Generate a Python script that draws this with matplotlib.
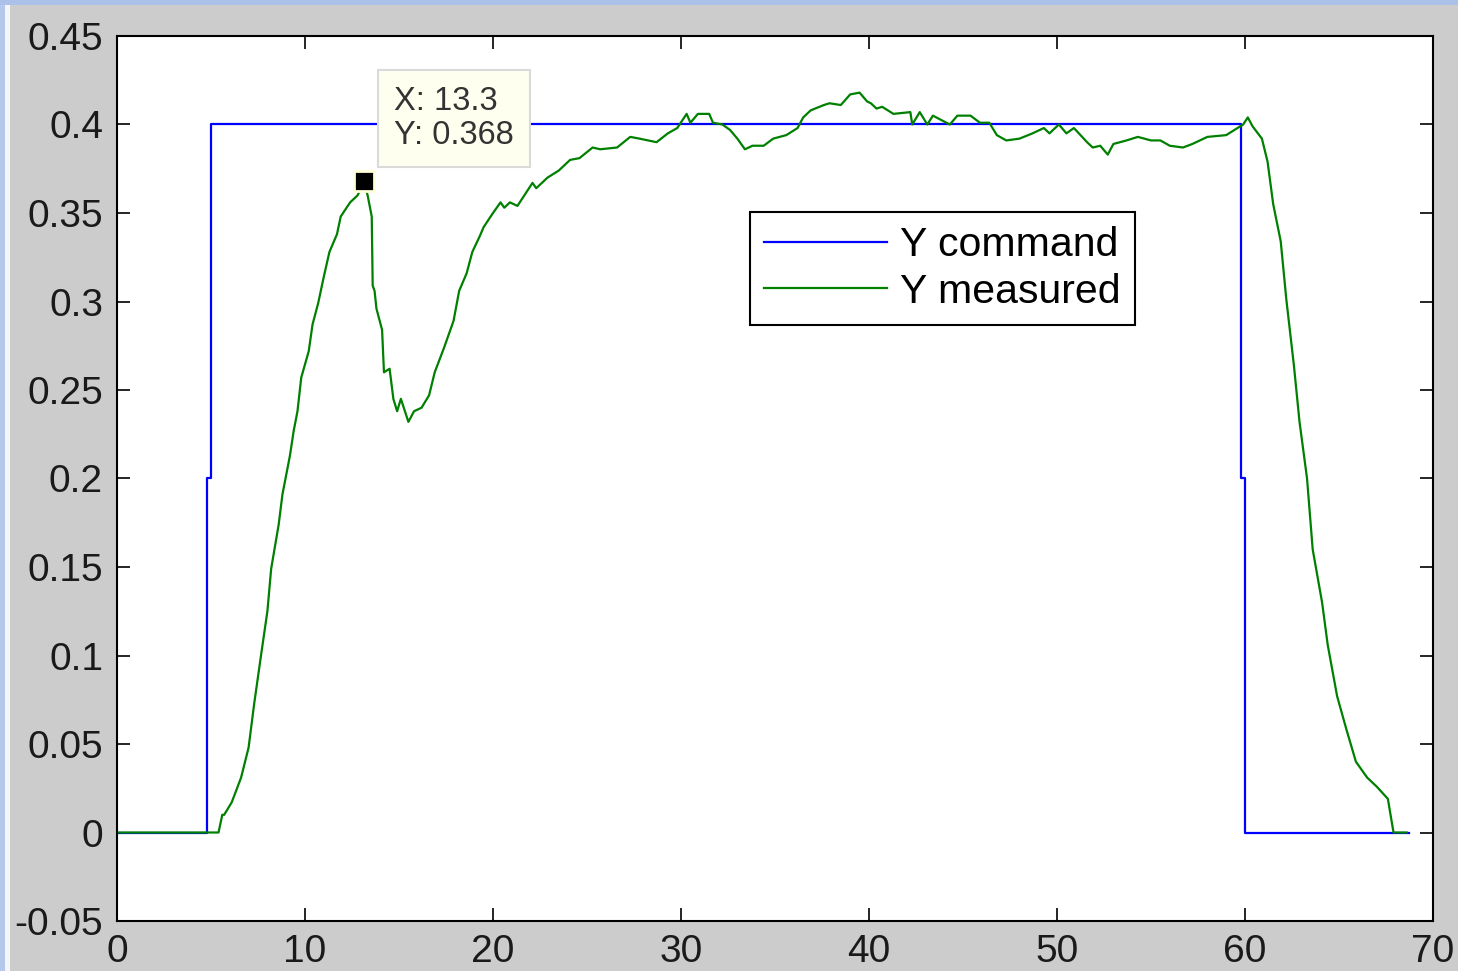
import matplotlib.pyplot as plt
from matplotlib.patches import Rectangle

plt.rcParams['font.family'] = ['Liberation Sans', 'DejaVu Sans']

# command signal (step up at ~5 s, step down at ~60 s)
cmd_t = [0, 4.8, 4.8, 5.0, 5.0, 59.8, 59.8, 60.0, 60.0, 68.7]
cmd_y = [0, 0, 0.2, 0.2, 0.4, 0.4, 0.2, 0.2, 0, 0]

meas_t = [0, 5.4, 5.6, 5.7, 6.1, 6.6, 7.0, 7.3, 7.7, 8.0, 8.2, 8.6, 8.8, 9.2, 9.4,
          9.6, 9.8, 10.2, 10.4, 10.7, 11.0, 11.3, 11.7, 11.9, 12.4, 12.8, 13.15,
          13.35, 13.55, 13.6, 13.7, 13.8, 14.1, 14.2, 14.5, 14.7, 14.9, 15.1, 15.5,
          15.8, 16.2, 16.6, 16.9, 17.4, 17.9, 18.2, 18.6, 18.9, 19.3, 19.5, 20.0,
          20.4, 20.6, 20.9, 21.3, 22.1, 22.3, 22.9, 23.5, 24.1, 24.6, 25.3, 25.7,
          26.6, 27.3, 27.8, 28.7, 29.3, 29.8, 30.3, 30.5, 30.9, 31.2, 31.5, 31.7,
          32.2, 32.6, 33.0, 33.4, 33.8, 34.4, 34.9, 35.6, 36.2, 36.5, 36.9, 37.6,
          37.9, 38.5, 39.0, 39.5, 39.9, 40.1, 40.4, 40.7, 41.3, 42.2, 42.3, 42.7,
          43.1, 43.4, 44.3, 44.7, 45.4, 45.9, 46.4, 46.8, 47.3, 48.0, 48.7, 49.3,
          49.6, 50.1, 50.5, 50.9, 51.6, 51.9, 52.3, 52.7, 53.0, 53.7, 54.3, 55.0,
          55.5, 56.0, 56.7, 57.2, 58.0, 59.0, 59.6, 59.9, 60.15, 60.4, 60.9, 61.2,
          61.5, 61.9, 62.2, 62.6, 62.9, 63.3, 63.6, 64.1, 64.4, 64.9, 65.4, 65.9,
          66.5, 67.0, 67.6, 67.9, 68.6]
meas_y = [0, 0, 0.01, 0.01, 0.017, 0.031, 0.048, 0.073, 0.103, 0.125, 0.149, 0.174,
          0.191, 0.213, 0.227, 0.238, 0.257, 0.272, 0.287, 0.299, 0.314, 0.328, 0.338,
          0.348, 0.356, 0.36, 0.368, 0.359, 0.348, 0.309, 0.306, 0.296, 0.284, 0.26,
          0.262, 0.245, 0.238, 0.245, 0.232, 0.238, 0.24, 0.247, 0.26, 0.274, 0.289,
          0.306, 0.316, 0.328, 0.337, 0.342, 0.35, 0.356, 0.353, 0.356, 0.354, 0.367,
          0.364, 0.37, 0.374, 0.38, 0.381, 0.387, 0.386, 0.387, 0.393, 0.392, 0.39,
          0.395, 0.398, 0.406, 0.401, 0.406, 0.406, 0.406, 0.401, 0.4, 0.397, 0.392,
          0.386, 0.388, 0.388, 0.392, 0.394, 0.398, 0.404, 0.408, 0.411, 0.412, 0.411,
          0.417, 0.418, 0.413, 0.412, 0.409, 0.41, 0.406, 0.407, 0.4, 0.407, 0.4,
          0.405, 0.4, 0.405, 0.405, 0.401, 0.401, 0.394, 0.391, 0.392, 0.395, 0.398,
          0.395, 0.4, 0.395, 0.398, 0.39, 0.387, 0.388, 0.383, 0.389, 0.391, 0.393,
          0.391, 0.391, 0.388, 0.387, 0.389, 0.393, 0.394, 0.398, 0.4, 0.404, 0.399,
          0.392, 0.379, 0.355, 0.334, 0.301, 0.264, 0.232, 0.2, 0.16, 0.13, 0.106,
          0.077, 0.058, 0.04, 0.031, 0.026, 0.019, 0.0, 0.0]

# data tip
tip_x, tip_y = 13.15, 0.368
tip_label = "X: 13.3\nY: 0.368"

xticks = [0, 10, 20, 30, 40, 50, 60, 70]
yticks = [-0.05, 0, 0.05, 0.1, 0.15, 0.2, 0.25, 0.3, 0.35, 0.4, 0.45]
ytick_labels = ['-0.05', '0', '0.05', '0.1', '0.15', '0.2', '0.25', '0.3', '0.35', '0.4', '0.45']

fig = plt.figure(figsize=(14.58, 9.71), dpi=100, facecolor='#cccccc')
ax = fig.add_axes([117 / 1458, 50 / 971, 1316 / 1458, 885 / 971])

# window frame (blue strips top/left)
fig.add_artist(Rectangle((0, 0), 5 / 1458, 1, transform=fig.transFigure,
                         facecolor='#b4c8ec', edgecolor='none'))
fig.add_artist(Rectangle((5 / 1458, 0), 5 / 1458, 1, transform=fig.transFigure,
                         facecolor='#f4f6fb', edgecolor='none'))
fig.add_artist(Rectangle((0, 1 - 5 / 971), 1, 5 / 971, transform=fig.transFigure,
                         facecolor='#abc1ea', edgecolor='none'))

ax.plot(cmd_t, cmd_y, color='#0000ff', lw=1.6, label='Y command')
ax.plot(meas_t, meas_y, color='#008000', lw=1.6, label='Y measured')

ax.plot([tip_x], [tip_y], marker='s', markersize=15, color='black',
        markeredgecolor='#ffffd8', markeredgewidth=2, linestyle='none')
ax.annotate(tip_label, xy=(tip_x, tip_y), xytext=(30, 95), textcoords='offset pixels',
            ha='left', va='top', fontsize=23.5, color='#333333', linespacing=1.1,
            bbox=dict(boxstyle='square,pad=0.5', facecolor='#fffff0', edgecolor='#dadada', lw=1.5))

ax.set_xlim(0, 70)
ax.set_ylim(-0.05, 0.45)
ax.set_xticks(xticks)
ax.set_xticklabels([str(v) for v in xticks])
ax.set_yticks(yticks)
ax.set_yticklabels(ytick_labels)
ax.tick_params(direction='in', length=9.5, width=1.2, labelsize=28, colors='black',
               labelcolor='#1a1a1a', top=True, right=True, pad=10)
ax.tick_params(axis='x', pad=9)
for s in ax.spines.values():
    s.set_linewidth(1.5)
ax.set_facecolor('white')

leg = ax.legend(loc='upper left', bbox_to_anchor=(0.481, 0.801), borderaxespad=0,
                fontsize=29.5, handlelength=3.0, handletextpad=0.3, borderpad=0.35,
                labelspacing=0.2, fancybox=False, framealpha=1, edgecolor='black')
leg.get_frame().set_linewidth(1.5)

fig.savefig('out.png', dpi=100, facecolor=fig.get_facecolor())
